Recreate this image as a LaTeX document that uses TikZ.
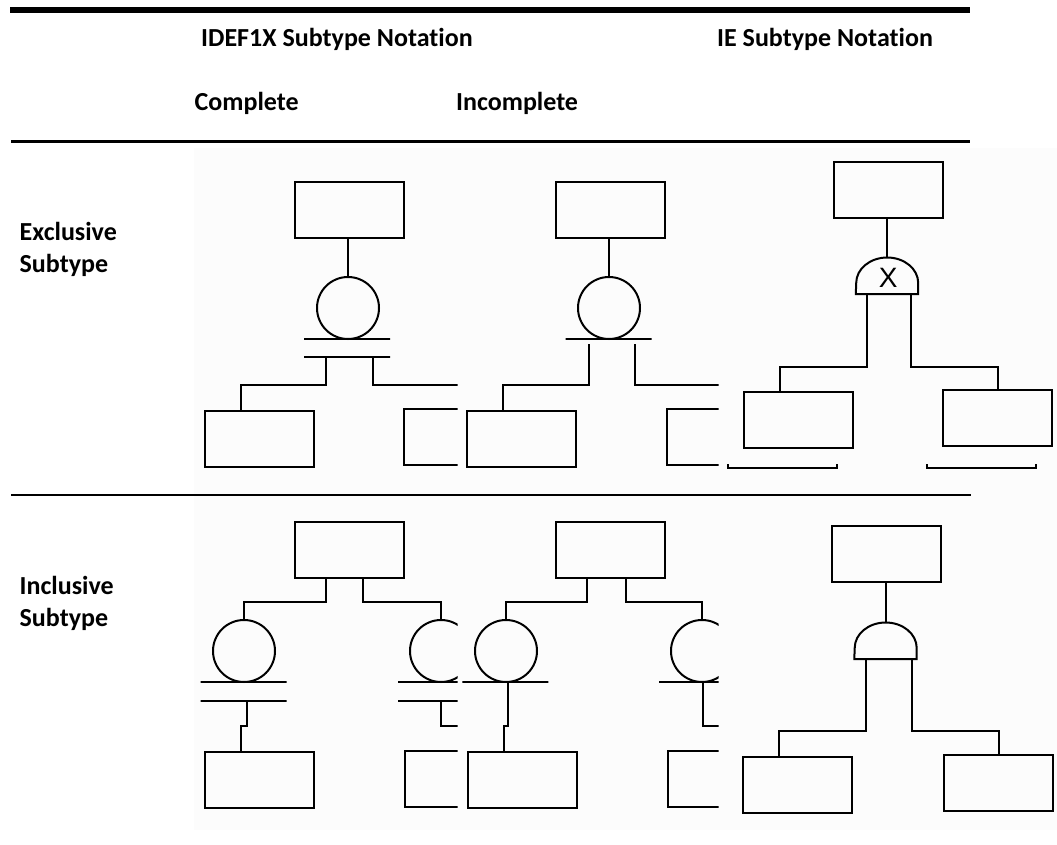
\documentclass[tikz,border=0pt]{standalone}
\usepackage{fontspec}
\setmainfont{Carlito}[Ligatures=NoCommon]
\newfontfamily\gatefont{Liberation Sans}
\begin{document}
\begin{tikzpicture}[x=1pt,y=-1pt,
  ent/.style={rectangle, draw, line width=2pt, minimum width=109pt, minimum height=56pt, inner sep=0pt},
  disc/.style={circle, draw, line width=2pt, minimum size=62pt, inner sep=0pt},
  barline/.style={rectangle, draw, line width=2pt, minimum width=86pt, minimum height=0pt, inner sep=0pt},
  gatebox/.style={rectangle, minimum width=62pt, minimum height=36.5pt, inner sep=0pt},
  gatedraw/.style={line width=2pt},
  conn/.style={line width=2pt},
  hdr/.style={font=\bfseries\fontsize{26}{31}\selectfont, anchor=base west, inner sep=0pt},
  xmark/.style={font=\gatefont\fontsize{28}{28}\selectfont, inner sep=0pt}]
\fill[white] (0,0) rectangle (1057,845);
\useasboundingbox (0,0) rectangle (1057,845);
\fill[black!1] (194,148) rectangle (1057,830);

% header rules and texts
\draw[line width=5.3pt] (10,10) coordinate (t1) -- (970,10) coordinate (t2);
\node[hdr] (hIDEF) at (201,46.7) {IDEF1X Subtype Notation};
\node[hdr] (hIE) at (717,46.7) {IE Subtype Notation};
\node[hdr] (hComp) at (194.5,111) {Complete};
\node[hdr] (hInc) at (456,111) {Incomplete};
\draw[line width=2.7pt] (11,141.3) coordinate (m1) -- (970,141.3) coordinate (m2);
\draw[line width=2.7pt] (11,495) coordinate (r1) -- (971,495) coordinate (r2);
\node[hdr] (rEx1) at (19.5,240.7) {Exclusive};
\node[hdr] (rEx2) at (19.5,272.7) {Subtype};
\node[hdr] (rIn1) at (19.5,594) {Inclusive};
\node[hdr] (rIn2) at (19.5,626) {Subtype};

% ---------------- column 1: IDEF1X complete
\begin{scope}
\clip (190,145) rectangle (457.5,840);
% exclusive
\node[ent] (P11) at (349,210) {};
\node[disc] (C11) at (348,308) {};
\node[barline] (B11a) at (347,339) {};
\node[barline] (B11b) at (347,357.3) {};
\node[ent] (E11L) at (259.5,438.7) {};
\node[ent] (E11R) at (458.8,437) {};
\draw[conn] (P11.south -| C11.north) -- (C11.north);
\draw[conn] ([xshift=-21pt]B11b.center) -- ++(0,28) -| ([xshift=-19pt]E11L.north);
\draw[conn] ([xshift=26pt]B11b.center) -- ++(0,28) -| ([xshift=19pt]E11R.north);
% inclusive
\node[ent] (P21) at (349,550) {};
\node[disc] (C21L) at (244,651) {};
\node[disc] (C21R) at (441,651) {};
\node[barline] (B21La) at (243.5,682.3) {};
\node[barline] (B21Lb) at (243.5,700.7) {};
\node[barline] (B21Ra) at (441,682.3) {};
\node[barline] (B21Rb) at (441,700.7) {};
\node[ent] (E21L) at (259.5,780.3) {};
\node[ent] (E21R) at (459.4,778.5) {};
\draw[conn] ([xshift=-23.3pt]P21.south) -- ++(0,23.4) -| (C21L.north);
\draw[conn] ([xshift=14.3pt]P21.south) -- ++(0,23.4) -| (C21R.north);
\draw[conn] ([xshift=3.5pt]B21Lb.center) -- ++(0,25.3) -| ([xshift=-19pt]E21L.north);
\draw[conn] (B21Rb.center) -- ++(0,25.3) -| ([xshift=19pt]E21R.north);
\end{scope}

% ---------------- column 2: IDEF1X incomplete
\begin{scope}
\clip (460,145) rectangle (718.5,840);
% exclusive
\node[ent] (P12) at (610.5,209.7) {};
\node[disc] (C12) at (609,308) {};
\node[barline] (B12) at (608.5,339) {};
\node[ent] (E12L) at (521.5,438.7) {};
\node[ent] (E12R) at (721.2,437) {};
\draw[conn] (P12.south -| C12.north) -- (C12.north);
\draw[conn] ([xshift=-20pt,yshift=-5pt]B12.center) -- ++(0,41) -| ([xshift=-19pt]E12L.north);
\draw[conn] ([xshift=26pt,yshift=-5pt]B12.center) -- ++(0,41) -| ([xshift=19pt]E12R.north);
% inclusive
\node[ent] (P22) at (610.4,550) {};
\node[disc] (C22L) at (506,651) {};
\node[disc] (C22R) at (702,651) {};
\node[barline] (B22L) at (505.3,682.3) {};
\node[barline] (B22R) at (702,682.3) {};
\node[ent] (E22L) at (522.7,780.3) {};
\node[ent] (E22R) at (722.2,778.5) {};
\draw[conn] ([xshift=-23.1pt]P22.south) -- ++(0,23.4) -| (C22L.north);
\draw[conn] ([xshift=15.3pt]P22.south) -- ++(0,23.4) -| (C22R.north);
\draw[conn] ([xshift=3pt]B22L.center) -- ++(0,43.7) -| ([xshift=-19pt]E22L.north);
\draw[conn] ([xshift=1pt]B22R.center) -- ++(0,43.7) -| ([xshift=19pt]E22R.north);
\end{scope}

% ---------------- column 3: IE
% exclusive
\node[ent] (P13) at (888,190) {};
\node[gatebox] (G13) at (887,275.55) {};
\draw[gatedraw] (G13.south west) -- (G13.south east) -- ++(0,-11)
  arc[start angle=0, end angle=180, x radius=31pt, y radius=25.5pt] -- cycle;
\node[xmark] (X13) at (888.3,278.3) {X};
\node[ent] (E13L) at (798.4,420.3) {};
\node[ent] (E13R) at (997.5,418.3) {};
\draw[conn] (P13.south -| G13.north) -- (G13.north);
\draw[conn] ([xshift=-20.3pt]G13.south) -- ++(0,72.7) -| ([xshift=-18.4pt]E13L.north);
\draw[conn] ([xshift=24pt]G13.south) -- ++(0,72.7) -| (E13R.north);
\draw[conn] (727.7,464) -- (727.7,468.3) -- (836.7,468.3) -- (836.7,464);
\draw[conn] (926.7,464) -- (926.7,468.3) -- (1036,468.3) -- (1036,464);
% inclusive
\node[ent] (P23) at (886.3,554) {};
\node[gatebox] (G23) at (885.5,640.55) {};
\draw[gatedraw] (G23.south west) -- (G23.south east) -- ++(0,-11)
  arc[start angle=0, end angle=180, x radius=31pt, y radius=25.5pt] -- cycle;
\node[ent] (E23L) at (797.7,784.8) {};
\node[ent] (E23R) at (998.5,782.6) {};
\draw[conn] (P23.south -| G23.north) -- (G23.north);
\draw[conn] ([xshift=-20pt]G23.south) -- ++(0,72) -| ([xshift=-18.7pt]E23L.north);
\draw[conn] ([xshift=26.5pt]G23.south) -- ++(0,72) -| (E23R.north);
\end{tikzpicture}
\end{document}
